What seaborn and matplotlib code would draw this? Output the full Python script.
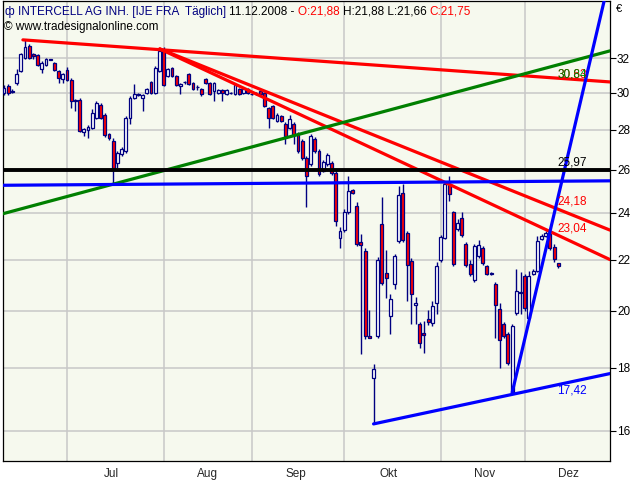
import matplotlib
matplotlib.use("Agg")
import matplotlib.pyplot as plt
from matplotlib.ticker import FixedLocator, NullLocator
import numpy as np
import pandas as pd
import seaborn as sns

# Daily candles INTERCELL AG, 10.06.2008 - 11.12.2008 (Frankfurt)
dates = pd.bdate_range("2008-06-10", "2008-12-11")

opens = [29.99, 30.38, 30.08, 30.56, 31.24, 32.01, 32.73, 32.25, 32.19, 31.36,
         31.59, 31.93, 31.71, 31.24, 30.78, 31.30, 30.73, 29.60, 29.60, 27.90,
         28.00, 28.10, 28.63, 29.33, 28.79, 27.79, 27.43, 26.33, 26.78, 26.93,
         28.63, 29.71, 29.95, 29.71, 29.99, 30.61, 29.99, 31.24, 32.49, 30.95,
         31.41, 30.95, 30.38, 30.63, 31.06, 30.56, 30.33, 30.21, 30.78, 30.56,
         30.10, 29.99, 30.16, 29.93, 30.00, 29.93, 30.21, 29.99, 30.21, 29.95,
         30.00, 30.10, 29.99, 29.16, 29.27, 28.47, 28.74, 28.31, 28.10, 28.31,
         27.79, 27.43, 26.58, 26.29, 27.53, 26.93, 25.94, 26.29, 26.33, 25.84,
         22.90, 23.25, 24.03, 25.05, 24.31, 22.74, 22.36, 19.07, 17.66, 19.09,
         23.51, 21.46, 19.81, 21.02, 22.78, 24.90, 23.11, 21.95, 20.22, 19.52,
         19.18, 19.70, 19.56, 20.30, 21.99, 22.90, 25.33, 24.03, 23.29, 23.77,
         22.65, 21.82, 21.18, 22.15, 22.49, 21.74, 21.44, 21.02, 20.07, 19.52,
         19.16, 17.21, 19.93, 20.68, 21.34, 19.74, 21.42, 21.54, 22.86, 22.99,
         23.07, 22.53, 21.88]
highs = [30.44, 30.50, 30.20, 31.36, 32.31, 33.10, 32.85, 32.31, 32.25, 31.83,
         32.01, 31.95, 31.77, 31.30, 31.12, 31.47, 30.84, 29.66, 29.70, 28.10,
         28.26, 29.10, 29.55, 29.44, 28.90, 27.85, 27.59, 26.93, 27.13, 28.74,
         29.82, 30.50, 30.00, 29.95, 30.27, 30.67, 31.53, 32.60, 32.67, 31.41,
         31.47, 31.00, 30.56, 30.67, 31.12, 30.61, 30.44, 30.27, 30.84, 30.61,
         30.61, 30.21, 30.21, 30.21, 30.05, 30.50, 30.27, 30.27, 30.27, 29.99,
         30.05, 30.16, 30.05, 29.22, 29.33, 28.90, 28.79, 28.42, 28.79, 28.42,
         27.90, 27.53, 26.68, 27.80, 27.64, 27.03, 26.48, 26.83, 26.43, 25.94,
         23.38, 24.17, 25.70, 25.10, 24.49, 23.07, 22.46, 20.04, 18.12, 22.10,
         24.72, 22.40, 20.64, 22.24, 25.23, 25.33, 23.20, 22.07, 20.52, 19.60,
         19.63, 20.04, 20.37, 21.91, 23.05, 25.40, 25.70, 24.10, 23.73, 24.03,
         22.74, 21.99, 22.65, 22.82, 22.57, 21.78, 21.48, 21.10, 20.30, 19.60,
         19.23, 19.52, 21.62, 21.50, 21.42, 21.54, 21.60, 22.99, 23.07, 23.20,
         23.11, 22.65, 21.88]
lows = [29.88, 29.88, 29.99, 30.44, 31.18, 31.95, 31.95, 31.95, 31.53, 31.12,
        31.53, 31.86, 31.24, 30.56, 30.56, 30.67, 29.16, 29.00, 27.90, 27.69,
        27.59, 28.05, 28.55, 28.55, 27.64, 27.48, 25.33, 26.09, 26.68, 26.83,
        28.31, 29.66, 29.82, 29.00, 29.93, 29.93, 29.93, 31.18, 30.38, 30.90,
        30.90, 30.38, 29.93, 30.50, 30.44, 30.16, 30.16, 29.82, 30.50, 29.88,
        29.55, 29.93, 29.55, 29.88, 29.93, 29.88, 29.88, 29.93, 29.93, 29.88,
        29.90, 29.88, 29.22, 28.10, 28.55, 28.42, 28.42, 27.28, 28.05, 27.28,
        26.83, 26.48, 24.26, 26.19, 26.83, 25.70, 25.89, 26.19, 25.75, 23.42,
        22.49, 23.15, 23.95, 24.85, 22.57, 18.46, 18.98, 19.00, 16.21, 19.00,
        20.98, 20.48, 19.16, 20.83, 22.70, 22.74, 20.37, 19.52, 19.52, 18.67,
        18.50, 19.50, 19.45, 19.89, 21.91, 22.85, 24.54, 21.74, 23.20, 22.95,
        21.70, 21.34, 21.10, 22.07, 21.78, 21.38, 21.36, 19.00, 18.00, 19.00,
        18.08, 17.18, 19.85, 19.90, 20.00, 19.70, 21.38, 21.50, 22.80, 22.95,
        22.40, 21.91, 21.66]
closes = [30.27, 29.99, 30.06, 31.06, 32.25, 32.67, 32.01, 32.13, 31.59, 31.71,
          31.95, 31.90, 31.30, 30.84, 31.06, 30.73, 29.55, 29.55, 27.95, 28.05,
          28.16, 28.90, 29.44, 28.63, 27.74, 27.59, 26.09, 26.83, 27.03, 28.63,
          29.71, 29.93, 29.90, 29.88, 30.21, 29.99, 31.41, 32.43, 30.44, 31.36,
          30.95, 30.44, 30.50, 30.60, 30.50, 30.21, 30.30, 29.93, 30.56, 29.93,
          30.56, 30.16, 29.99, 30.16, 29.97, 30.44, 29.93, 30.21, 29.99, 29.92,
          29.97, 29.93, 29.27, 28.63, 28.63, 28.79, 28.47, 27.69, 28.58, 27.74,
          26.93, 26.58, 25.70, 27.69, 26.93, 25.80, 26.38, 26.73, 25.84, 23.64,
          23.20, 24.03, 25.00, 24.90, 22.65, 22.61, 19.09, 19.02, 17.95, 21.99,
          21.06, 21.26, 20.45, 22.15, 24.81, 22.82, 21.78, 20.64, 20.30, 18.84,
          19.14, 19.59, 20.18, 21.74, 22.95, 25.33, 24.86, 21.82, 23.55, 23.03,
          21.78, 21.42, 22.57, 22.61, 21.86, 21.42, 21.40, 20.22, 18.93, 19.09,
          18.15, 19.45, 20.76, 20.72, 20.10, 21.34, 21.54, 22.78, 22.99, 23.11,
          22.49, 22.03, 21.75]

# trendlines: (bar index, price) of both ends
line_top_red = ([4.5, 144.3], [33.10, 30.61])
line_red_a = ([37.1, 144.3], [32.55, 23.24])
line_red_b = ([37.1, 144.3], [32.55, 22.00])
line_green = ([-0.24, 144.3], [23.96, 32.43])
line_blue_flat = ([-0.24, 144.3], [25.26, 25.47])
line_blue_low = ([88, 144.3], [16.21, 17.80])
line_blue_steep = ([121, 142.9], [17.18, 35.58])
black_level = 25.97

line_labels = ["30,63", "30,84", "25,97", "24,18", "23,04", "17,42"]
label_prices = [31.06, 31.06, 26.33, 24.49, 23.33, 17.24]
label_colors = ["red", "green", "black", "red", "red", "blue"]

month_names = ["Jul", "Aug", "Sep", "Okt", "Nov", "Dez"]
price_ticks = [16, 18, 20, 22, 24, 26, 28, 30, 32]

NAVY = "#000080"
BG = "#f6f9ee"
GRID = "#c8c8c8"

sns.set_style("white")
plt.rcParams["font.family"] = ["Liberation Sans", "DejaVu Sans"]

fig = plt.figure(figsize=(6.4, 4.8), dpi=100)
ax = fig.add_axes([3 / 640, 19 / 480, 607 / 640, 460 / 480])
ax.set_facecolor(BG)
ax.set_yscale("log")

df = pd.DataFrame({"date": dates, "open": opens, "high": highs, "low": lows, "close": closes})
df["idx"] = np.arange(len(df))
up = df["close"] >= df["open"]

# grid
for p in price_ticks:
    ax.axhline(p, color=GRID, lw=1.1, zorder=1)
month_start = df.groupby(df["date"].dt.to_period("M"))["idx"].min().values[1:]
for m in month_start:
    ax.axvline(m, color=GRID, lw=1.1, zorder=1)

# candles
ax.vlines(df["idx"], df["low"], df["high"], color=NAVY, lw=1.0, zorder=3)
body_lo = np.minimum(df["open"], df["close"])
body_h = np.maximum(np.abs(df["close"] - df["open"]), 0.03)
ax.bar(df["idx"], body_h, bottom=body_lo, width=0.7,
       color=np.where(up, "white", "#ff0000"), edgecolor=NAVY, linewidth=0.9, zorder=4)

# trendlines
for (xs, ys), col in [(line_top_red, "#ff0000"), (line_red_a, "#ff0000"), (line_red_b, "#ff0000"),
                      (line_green, "#008000"), (line_blue_flat, "#0000ff"),
                      (line_blue_low, "#0000ff"), (line_blue_steep, "#0000ff")]:
    sns.lineplot(x=xs, y=ys, color=col, lw=2.3, ax=ax, estimator=None, sort=False, zorder=5)
ax.axhline(black_level, color="black", lw=2.8, zorder=5)

for txt, p, col in zip(line_labels, label_prices, label_colors):
    ax.text(131.7, p, txt, color=col, fontsize=8.5, va="center", ha="left", zorder=6)

ax.set_xlim(-0.24, 144.3)
ax.set_ylim(15.13, 35.58)

# axes
ax.yaxis.tick_right()
ax.yaxis.set_major_locator(FixedLocator(price_ticks))
ax.yaxis.set_minor_locator(NullLocator())
ax.set_yticklabels([str(p) for p in price_ticks])
ax.tick_params(axis="y", which="major", direction="out", length=4, width=0.8,
               labelsize=8.5, pad=1, colors="black")
ax.xaxis.set_major_locator(FixedLocator(month_start))
ax.xaxis.set_minor_locator(FixedLocator(month_start + 10.5))
ax.set_xticklabels([])
ax.set_xticklabels(month_names, minor=True)
ax.tick_params(axis="x", which="major", direction="out", length=4, width=0.8)
ax.tick_params(axis="x", which="minor", length=0, labelsize=8.5, pad=5)
ax.set_xlabel("")
ax.set_ylabel("")
for s in ax.spines.values():
    s.set_visible(True)
    s.set_color("black")
    s.set_linewidth(0.9)

# header
o, h, l, c = [f"{v:.2f}".replace(".", ",") for v in (opens[-1], highs[-1], lows[-1], closes[-1])]
parts = [("ф ", NAVY), ("INTERCELL AG INH. [IJE FRA  Täglich] ", NAVY),
         ("11.12.2008 - ", "black"), (f"O:{o} ", "red"), (f"H:{h} L:{l} ", "black"), (f"C:{c}", "red")]
t = fig.text(5 / 640, 1 - 15 / 480, parts[0][0], color=parts[0][1], fontsize=8.5)
for s, col in parts[1:]:
    t = ax.annotate(s, xycoords=t, xy=(1, 0), va="bottom", color=col, fontsize=8.5)
fig.text(4 / 640, 1 - 30 / 480, "© www.tradesignalonline.com", color="black", fontsize=8.5)
fig.text(616 / 640, 1 - 12 / 480, "€", color="black", fontsize=8)

fig.savefig("out.png", dpi=100, facecolor="white")
